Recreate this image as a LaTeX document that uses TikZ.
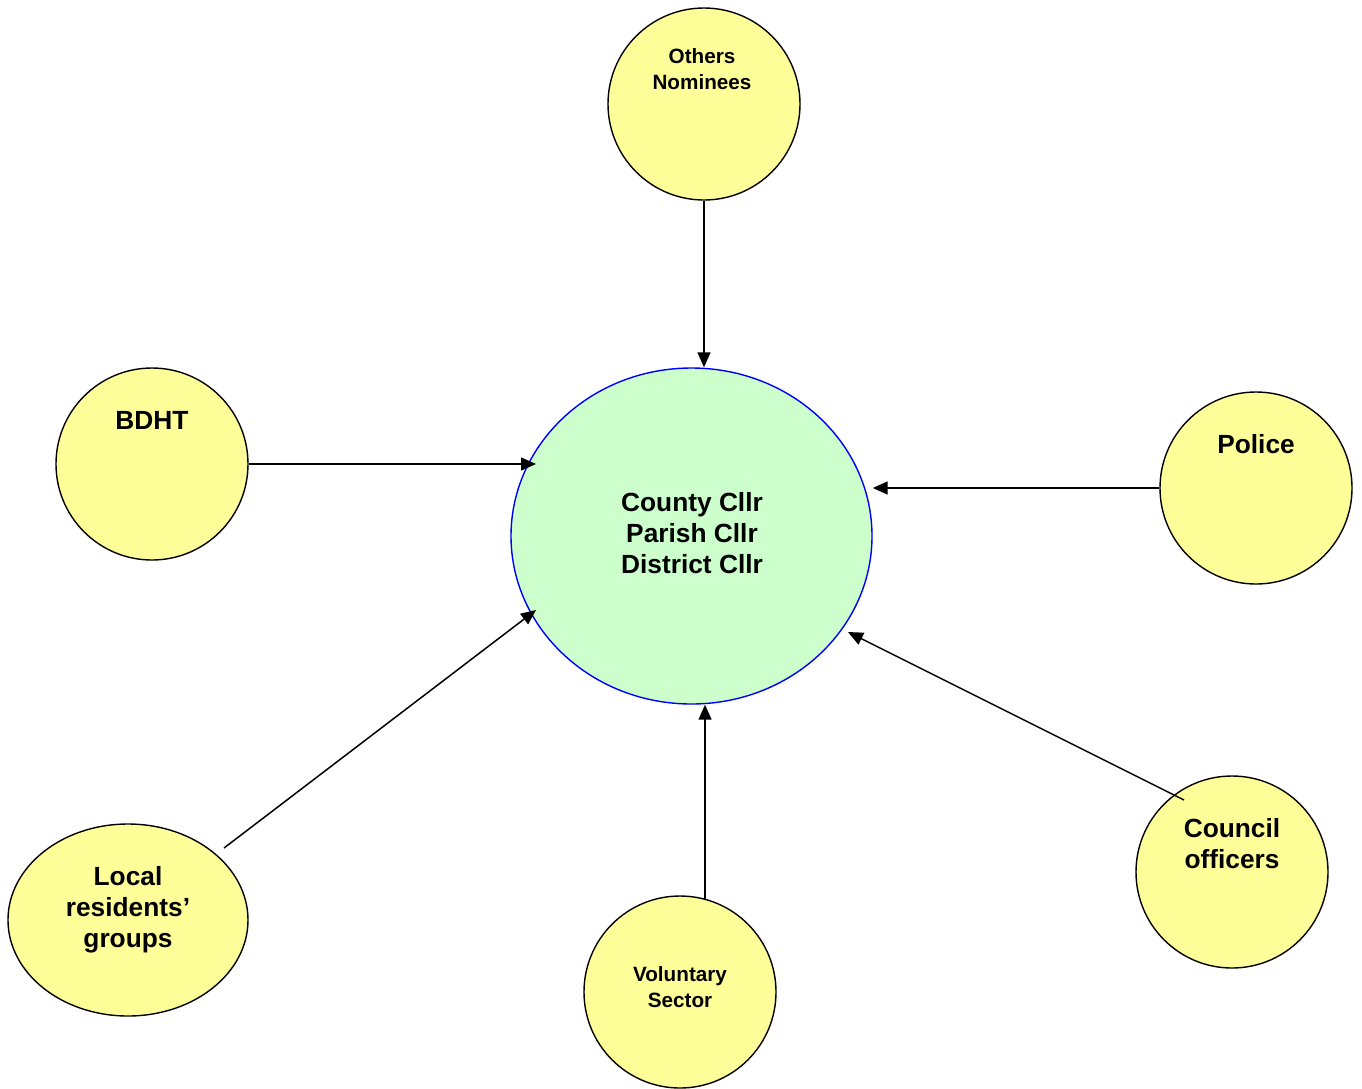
\documentclass[tikz,border=0pt]{standalone}
\usepackage{fontspec}
\setmainfont{Liberation Sans}
\usetikzlibrary{shapes.geometric,arrows.meta}
\definecolor{partyellow}{HTML}{FFFF99}
\definecolor{hubgreen}{HTML}{CCFFCC}
\begin{document}
\begin{tikzpicture}[x=1pt,y=-1pt,
  partner/.style={circle,draw=black,line width=1.4pt,fill=partyellow,
    minimum size=192pt,inner sep=0pt},
  hub/.style={ellipse,draw=blue,line width=1.4pt,fill=hubgreen,
    minimum width=361pt,minimum height=336pt,inner sep=0pt},
  bigtxt/.style={align=center,font=\bfseries\fontsize{26.3}{31}\selectfont,inner sep=0pt},
  smalltxt/.style={align=center,font=\bfseries\fontsize{20.7}{26}\selectfont,inner sep=0pt},
  link/.style={line width=1.5pt,-{Triangle[length=15pt,width=13pt]}}]
\useasboundingbox (0,0) rectangle (1362,1088);

% circles
\node[hub] (cen) at (691.5,536) {};
\node[partner] (oth) at (704,104) {};
\node[partner] (bdht) at (152,464) {};
\node[partner] (pol) at (1256,488) {};
\node[partner,minimum width=240pt,minimum height=192pt,ellipse] (loc) at (128,920) {};
\node[partner] (vol) at (680,992) {};
\node[partner] (cou) at (1232,872) {};

% labels
\node[bigtxt] (cenlbl) at (692,533) {County Cllr\\Parish Cllr\\District Cllr};
\node[smalltxt] (othlbl) at (702,69) {Others\\Nominees};
\node[bigtxt] (bdhtlbl) at (152,420) {BDHT};
\node[bigtxt] (pollbl) at (1256,444) {Police};
\node[bigtxt] (loclbl) at (128,909.5) {Local\\residents’\\groups};
\node[smalltxt] (vollbl) at (680,987.5) {Voluntary\\Sector};
\node[bigtxt] (coulbl) at (1232,843.5) {Council\\officers};

% connector ends
\coordinate (bdhtEnd) at (536,464);
\coordinate (locStart) at (224,848);
\coordinate (locEnd) at (536,610);
\coordinate (couStart) at (1184,800);
\coordinate (couEnd) at (848,632);

% connectors
\draw[link] (oth.south) -- (oth.south |- cen.north);
\draw[link] (bdht.east) -- (bdhtEnd);
\draw[link] (pol.west) -- (pol.west -| cen.east);
\draw[link] (vol.75.5) -- (vol.75.5 |- cen.south);
\draw[link] (locStart) -- (locEnd);
\draw[link] (couStart) -- (couEnd);
\end{tikzpicture}
\end{document}
